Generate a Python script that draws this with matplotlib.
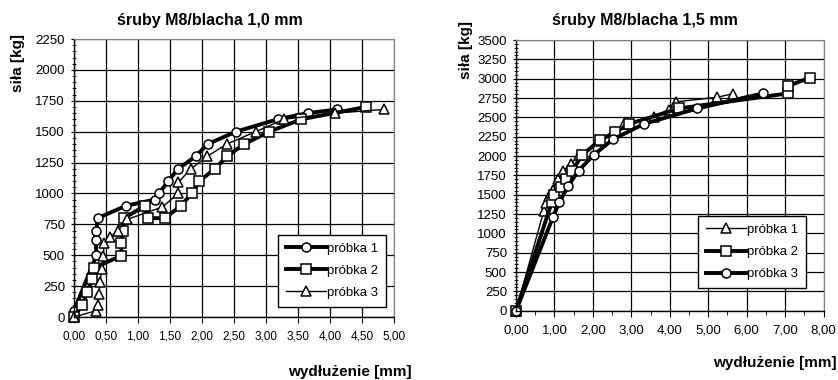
import matplotlib
matplotlib.use("Agg")
import matplotlib.pyplot as plt
from matplotlib.ticker import MultipleLocator, FuncFormatter

plt.rcParams['font.family'] = ['Liberation Sans', 'DejaVu Sans']

# --- sruby M8 / blacha 1,0 mm ---
a_x1 = [0.00, 0.35, 0.34, 0.35, 0.37, 0.81, 1.26, 1.33, 1.47, 1.63, 1.90, 2.09, 2.53, 3.18, 3.65, 4.11]
a_y1 = [50, 500, 620, 700, 800, 900, 950, 1000, 1100, 1200, 1300, 1400, 1500, 1600, 1650, 1680]
a_x2 = [0.00, 0.13, 0.21, 0.28, 0.32, 0.74, 0.74, 0.76, 0.78, 1.11, 1.16, 1.42, 1.67, 1.84, 1.96,
        2.20, 2.39, 2.66, 3.05, 3.55, 4.56]
a_y2 = [0, 100, 200, 305, 400, 495, 600, 700, 800, 900, 800, 800, 900, 1000, 1100,
        1200, 1300, 1400, 1500, 1600, 1700]
a_x3 = [0.00, 0.34, 0.37, 0.39, 0.41, 0.43, 0.46, 0.47, 0.57, 0.69, 0.83, 1.38, 1.63, 1.63,
        1.83, 2.08, 2.39, 2.84, 3.28, 4.08, 4.85]
a_y3 = [0, 50, 100, 190, 285, 390, 490, 600, 650, 700, 790, 890, 1000, 1090,
        1200, 1300, 1400, 1500, 1600, 1650, 1680]

# --- sruby M8 / blacha 1,5 mm ---
b_x1 = [0.00, 0.72, 0.79, 0.87, 0.95, 1.08, 1.21, 1.43, 1.65, 2.20, 2.58, 2.80, 3.58, 3.97, 4.16, 5.24, 5.64]
b_y1 = [0, 1285, 1395, 1480, 1565, 1700, 1800, 1900, 2010, 2200, 2310, 2420, 2505, 2600, 2700, 2760, 2805]
b_x2 = [0.00, 0.93, 0.98, 1.17, 1.31, 1.45, 1.72, 2.18, 2.58, 2.95, 4.24, 7.08, 7.08, 7.65]
b_y2 = [0, 1400, 1500, 1605, 1700, 1805, 2010, 2205, 2310, 2415, 2615, 2810, 2905, 3015]
b_x3 = [0.00, 0.96, 1.13, 1.36, 1.63, 2.02, 2.52, 3.33, 4.72, 6.43]
b_y3 = [0, 1208, 1405, 1615, 1812, 2012, 2215, 2415, 2615, 2810]

labels = ["próbka 1", "próbka 2", "próbka 3"]

thick = dict(color='black', lw=2.8, mfc='white', mec='black', mew=1.1, ms=6.5, clip_on=False)
thin = dict(color='black', lw=1.0, mfc='white', mec='black', mew=1.1, ms=6.5, clip_on=False)

fig = plt.figure(figsize=(8.38, 3.8), dpi=100)

comma2 = FuncFormatter(lambda v, p: f"{v:.2f}".replace('.', ','))


def style_axes(ax, xmax, xstep, ymax, xfs):
    ax.set_xlim(0, xmax)
    ax.set_ylim(0, ymax)
    ax.xaxis.set_major_locator(MultipleLocator(xstep))
    ax.xaxis.set_major_formatter(comma2)
    ax.yaxis.set_major_locator(MultipleLocator(250))
    ax.yaxis.set_minor_locator(MultipleLocator(50))
    ax.grid(True, which='major', color='black', lw=0.9)
    ax.set_axisbelow(True)
    ax.tick_params(axis='x', labelsize=xfs, length=4, direction='out', pad=6)
    ax.tick_params(axis='y', which='major', labelsize=9.5, length=5, direction='inout', pad=4)
    ax.tick_params(axis='y', which='minor', length=3, direction='inout')
    for s in ['top', 'right']:
        ax.spines[s].set_color('#808080')
    for s in ['left', 'bottom']:
        ax.spines[s].set_color('black')
        ax.spines[s].set_linewidth(1.0)


# left chart
ax1 = fig.add_axes([74 / 838, 63 / 380, 320 / 838, 278 / 380])
style_axes(ax1, 5.0, 0.5, 2250, 8.5)
h1, = ax1.plot(a_x1, a_y1, marker='o', **thick)
h2, = ax1.plot(a_x2, a_y2, marker='s', **thick)
h3, = ax1.plot(a_x3, a_y3, marker='^', **thin)
leg1 = ax1.legend([h1, h2, h3], labels, loc='lower left', bbox_to_anchor=(0.6375, 0.036),
                  borderaxespad=0, fontsize=9.5, fancybox=False, framealpha=1, edgecolor='black',
                  handlelength=3.0, handletextpad=0.1, labelspacing=0.75, borderpad=0.6)
leg1.get_frame().set_linewidth(1.0)
fig.text(210 / 838, 1 - 20 / 380, "śruby M8/blacha 1,0 mm", ha='center', va='center',
         fontsize=11.5, fontweight='bold')
fig.text(18 / 838, 1 - 63 / 380, "siła [kg]", rotation=90, ha='center', va='center',
         fontsize=11, fontweight='bold')
fig.text(350 / 838, 1 - 372 / 380, "wydłużenie [mm]", ha='center', va='center',
         fontsize=11, fontweight='bold')

# right chart
ax2 = fig.add_axes([516 / 838, 69.3 / 380, 307.5 / 838, 270.7 / 380])
style_axes(ax2, 8.0, 1.0, 3500, 9.5)
ax2.xaxis.set_minor_locator(MultipleLocator(0.5))
ax2.tick_params(axis='x', which='minor', length=3, direction='out')
g1, = ax2.plot(b_x1, b_y1, marker='^', **thin)
g2, = ax2.plot(b_x2, b_y2, marker='s', **thick)
g3, = ax2.plot(b_x3, b_y3, marker='o', **thick)
leg2 = ax2.legend([g1, g2, g3], labels, loc='lower left', bbox_to_anchor=(0.592, 0.083),
                  borderaxespad=0, fontsize=9.5, fancybox=False, framealpha=1, edgecolor='black',
                  handlelength=3.0, handletextpad=0.1, labelspacing=0.75, borderpad=0.6)
leg2.get_frame().set_linewidth(1.0)
fig.text(645 / 838, 1 - 20 / 380, "śruby M8/blacha 1,5 mm", ha='center', va='center',
         fontsize=11.5, fontweight='bold')
fig.text(466 / 838, 1 - 50 / 380, "siła [kg]", rotation=90, ha='center', va='center',
         fontsize=11, fontweight='bold')
fig.text(837 / 838, 1 - 363 / 380, "wydłużenie [mm]", ha='right', va='center',
         fontsize=11, fontweight='bold')

fig.savefig("out.png", dpi=100)
